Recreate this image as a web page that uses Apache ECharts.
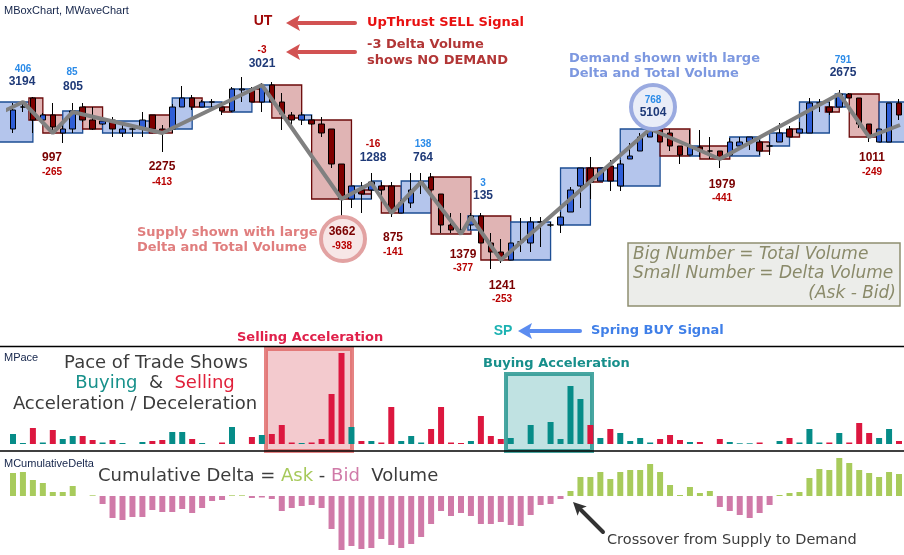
<!DOCTYPE html>
<html>
<head>
<meta charset="utf-8">
<title>MBoxChart, MWaveChart, MPace, MCumulativeDelta</title>
<script src="https://cdn.jsdelivr.net/npm/echarts@6/dist/echarts.min.js"></script>
<style>
  html, body { margin: 0; padding: 0; background: #ffffff; }
  #chart { width: 904px; height: 555px; }
</style>
</head>
<body>
<div id="chart"></div>
<script>
// bar numbers (90 bars)
var bars = []
for (var n = 1; n <= 90; n++) bars.push(String(n))

// candles: [open, close, low, high]
var candles = [
  [171, 190, 167, 197], [193, 193, 188, 196], [202, 180, 167, 203], [180, 185, 179, 187], [185, 173, 170, 197],
  [167, 171, 157, 180], [171, 189, 167, 197], [193, 180, 178, 197], [180, 171, 170, 193], [176, 179, 175, 182],
  [180, 171, 163, 183], [167, 171, 163, 177], [171, 171, 163, 175], [171, 180, 163, 188], [185, 171, 171, 185],
  [171, 167, 148, 175], [171, 193, 167, 196], [193, 202, 193, 214], [202, 193, 190, 205], [193, 198, 193, 200],
  [198, 198, 193, 201], [193, 189, 185, 198], [189, 211, 188, 213], [210, 211, 198, 223], [211, 198, 198, 213],
  [198, 214, 188, 217], [215, 198, 198, 218], [198, 186, 170, 207], [185, 180, 175, 188], [180, 185, 175, 188],
  [180, 176, 175, 185], [176, 167, 163, 183], [171, 136, 132, 171], [136, 101, 84, 136], [101, 114, 92, 114],
  [110, 106, 87, 118], [110, 118, 101, 127], [114, 110, 103, 118], [114, 88, 83, 118], [87, 97, 87, 100],
  [97, 110, 92, 127], [118, 118, 106, 127], [123, 110, 110, 127], [106, 75, 67, 106], [75, 70, 67, 87],
  [70, 70, 67, 87], [75, 84, 70, 87], [84, 57, 57, 87], [57, 48, 31, 67], [48, 40, 37, 61],
  [40, 57, 40, 57], [58, 58, 48, 82], [57, 78, 48, 83], [78, 78, 53, 83], [75, 75, 73, 78],
  [75, 83, 67, 88], [88, 110, 88, 113], [114, 132, 92, 132], [132, 118, 101, 143], [119, 132, 119, 132],
  [134, 119, 109, 140], [114, 136, 109, 140], [141, 144, 141, 157], [149, 163, 149, 167], [163, 171, 163, 171],
  [171, 158, 158, 171], [167, 154, 149, 171], [154, 145, 136, 154], [145, 154, 145, 170], [153, 149, 143, 170],
  [149, 149, 141, 163], [149, 141, 132, 149], [145, 158, 145, 162], [154, 158, 153, 163], [158, 163, 150, 163],
  [158, 149, 145, 160], [154, 154, 145, 158], [158, 167, 158, 177], [171, 163, 163, 174], [167, 171, 167, 178],
  [167, 197, 167, 202], [197, 197, 188, 201], [193, 188, 185, 198], [193, 206, 193, 210], [206, 202, 202, 207],
  [202, 176, 172, 202], [176, 163, 158, 176], [158, 171, 158, 171], [158, 197, 158, 197], [197, 185, 180, 201]
]

// boxes: [first bar, last bar, low, high, 1 = up / -1 = down]
var boxes = [
  [-2, 2, 158, 198, 1], [1.6, 3, 180, 202, -1], [3, 5, 167, 185, -1], [5, 7, 167, 189, 1], [7, 9, 171, 193, -1],
  [9, 14, 167, 179, 1], [13.7, 16, 167, 185, -1], [16, 18, 171, 202, 1], [18, 19, 193, 202, -1], [19, 21, 193, 198, 1],
  [21, 22, 188, 193, -1], [22, 24, 188, 211, 1], [24, 25, 198, 211, -1], [25, 26, 198, 215, 1], [26, 29, 182, 215, -1],
  [29, 30, 180, 185, 1], [30, 34, 101, 180, -1], [34, 36, 101, 114, 1], [35, 36, 106, 110, -1], [36, 37, 110, 119, 1],
  [37, 39, 87, 114, -1], [39, 42, 87, 119, 1], [42, 46, 66, 123, -1], [45.7, 47, 70, 84, 1], [47, 50, 40, 84, -1],
  [50, 54, 40, 78, 1], [55, 58, 75, 132, 1], [57.6, 59.2, 118, 132, -1], [59, 61, 119, 132, 1], [61, 65, 114, 171, 1],
  [65, 68, 144, 171, -1], [68, 69, 144, 154, 1], [69, 72, 141, 154, -1], [72, 75, 144, 163, 1], [75, 76, 149, 158, -1],
  [76, 78, 154, 167, 1], [78, 79, 163, 171, -1], [79, 82, 167, 198, 1], [81.6, 83, 188, 193, -1], [82.6, 83.6, 193, 206, 1],
  [84, 87, 163, 206, -1], [87, 91, 158, 198, 1]
]

// wave turning points: [bar, price]
var wave = [
  [-1.3, 187], [1, 198], [4, 167], [6, 188], [15, 167], [25, 215], [33, 101], [36, 117], [38, 87],
  [41, 118], [45, 66], [46, 83], [49, 40], [64, 171], [71, 141], [83, 206], [86, 163], [89.1, 175]
]

// pace of trade
var pace = [
  10, 1, 16, 1.5, 14, 5, 8, 8, 4, 1.5, 4, 1, 0, 2, 3, 4, 12, 12, 5, 1,
  0, 1.5, 17, 0, 7, 9, 10, 19, 1.5, 1, 1.5, 5, 50, 91, 17, 3, 3, 1.5, 37, 3,
  8, 1.5, 15, 37, 1.5, 1, 3, 28, 8, 5, 6, 0, 19, 0, 22, 5, 58, 45, 19, 6,
  15, 11, 3, 6, 1.5, 5, 9, 4, 2, 2, 0, 5, 2, 0.7, 0.7, 1.5, 0, 3, 6, 1.5,
  15, 1.5, 1.5, 11, 1.5, 21, 11, 6, 15, 3
]
// B = buying, S = selling
var paceSide = [
  'BBSBSBBSSB', 'SBBBSSBBSB', 'BSBBSBSSSB', 'SSSSBSBSSB', 'BBSSSSBSSS',
  'BBBBBBBBSB', 'SBBBBSSSBS', 'SSBBBSBBSB', 'BBSBSSSBBS'
].join('')

// cumulative delta (ask - bid)
var cumDelta = [
  23, 24, 16, 13, 4, 4, 10, 0, 0.7, -8, -22, -24, -21, -21, -14, -16, -16, -13, -17, -12,
  -5, -4, 0.7, 0.7, -2, -1.5, -3, -15, -12, -10, -9, -12, -33, -54, -50, -53, -52, -43, -49, -52,
  -48, -41, -28, -15, -20, -17, -20, -28, -28, -26, -29, -30, -19, -9, -8, -3, 5, 19, 19, 24,
  17, 24, 26, 26, 32, 24, 11, 1, 9, 3, 5, -11, -15, -19, -22, -17, -9, 1, 3, 4,
  18, 27, 26, 38, 33, 26, 23, 19, 24, 22
]

// volume labels: [x, y, text, kind]
var volLabels = [
  [23, 69, '406', 'db'], [22, 82, '3194', 'vb'], [72, 72, '85', 'db'], [73, 87, '805', 'vb'],
  [52, 158, '997', 'vr'], [52, 172, '-265', 'dr'], [162, 167, '2275', 'vr'], [162, 182, '-413', 'dr'],
  [262, 50, '-3', 'dr'], [262, 64, '3021', 'vb'], [373, 144, '-16', 'dr'], [373, 158, '1288', 'vb'],
  [423, 144, '138', 'db'], [423, 158, '764', 'vb'], [483, 183, '3', 'db'], [483, 196, '135', 'vb'],
  [342, 232, '3662', 'vr'], [342, 246, '-938', 'dr'], [393, 238, '875', 'vr'], [393, 252, '-141', 'dr'],
  [463, 255, '1379', 'vr'], [463, 268, '-377', 'dr'], [502, 286, '1241', 'vr'], [502, 299, '-253', 'dr'],
  [653, 100, '768', 'db'], [653, 113, '5104', 'vb'], [722, 185, '1979', 'vr'], [722, 198, '-441', 'dr'],
  [843, 60, '791', 'db'], [843, 73, '2675', 'vb'], [872, 158, '1011', 'vr'], [872, 172, '-249', 'dr']
]

var labelStyle = {
  vb: { fill: '#1f3a78', font: 'bold 12px "Liberation Sans", Arial, sans-serif' },
  db: { fill: '#2b8be8', font: 'bold 10px "Liberation Sans", Arial, sans-serif' },
  vr: { fill: '#7a0000', font: 'bold 12px "Liberation Sans", Arial, sans-serif' },
  dr: { fill: '#b80000', font: 'bold 10px "Liberation Sans", Arial, sans-serif' }
}

function txt(x, y, text, fill, font, align) {
  return {
    type: 'text', z: 50,
    style: { x: x, y: y, text: text, fill: fill, font: font, textAlign: align || 'left', textVerticalAlign: 'middle' }
  }
}

// arrow from tail (x1, y1) to tip (x2, y2)
function arrow(x1, y1, x2, y2, color, w, headLen, headW) {
  var dx = x2 - x1, dy = y2 - y1
  var len = Math.sqrt(dx * dx + dy * dy)
  var ux = dx / len, uy = dy / len
  var bx = x2 - ux * headLen, by = y2 - uy * headLen
  return {
    type: 'group', z: 50,
    children: [
      { type: 'line', shape: { x1: x1, y1: y1, x2: bx + ux * 2, y2: by + uy * 2 }, style: { stroke: color, lineWidth: w, lineCap: 'round' } },
      { type: 'polygon', shape: { points: [[x2, y2], [bx - uy * headW / 2, by + ux * headW / 2], [bx + ux * 3, by + uy * 3], [bx + uy * headW / 2, by - ux * headW / 2]] }, style: { fill: color } }
    ]
  }
}

var chart = echarts.init(document.getElementById('chart'))

var fontV = '"DejaVu Sans", Verdana, sans-serif'
var graphics = [
  { type: 'line', z: 40, shape: { x1: 0, y1: 346.5, x2: 904, y2: 346.5 }, style: { stroke: '#000', lineWidth: 1.5 } },
  { type: 'line', z: 40, shape: { x1: 0, y1: 451, x2: 904, y2: 451 }, style: { stroke: '#000', lineWidth: 1.5 } },
  txt(4, 11, 'MBoxChart, MWaveChart', '#14244a', '11px "Liberation Sans", Arial, sans-serif'),
  txt(4, 358, 'MPace', '#14244a', '11px "Liberation Sans", Arial, sans-serif'),
  txt(4, 464, 'MCumulativeDelta', '#14244a', '11px "Liberation Sans", Arial, sans-serif'),

  // signal circles
  { type: 'circle', z: 45, shape: { cx: 343, cy: 239, r: 22 }, style: { fill: '#f7e6e6', stroke: '#e2a2a2', lineWidth: 4 } },
  { type: 'circle', z: 45, shape: { cx: 653, cy: 107, r: 22 }, style: { fill: '#e9edf8', stroke: '#9aaae0', lineWidth: 4 } },

  // upthrust / spring notes
  txt(263, 21, 'UT', '#a00808', 'bold 14px "Liberation Sans", Arial, sans-serif', 'center'),
  arrow(355, 23, 286, 23, '#d25252', 4, 14, 16),
  txt(367, 23, 'UpThrust SELL Signal', '#e81010', 'bold 13px ' + fontV),
  arrow(355, 52, 286, 52, '#d25252', 4, 14, 16),
  txt(367, 45, '-3 Delta Volume', '#b23636', 'bold 13px ' + fontV),
  txt(367, 61, 'shows NO DEMAND', '#b23636', 'bold 13px ' + fontV),
  txt(569, 59, 'Demand shown with large', '#7d98e0', 'bold 13px ' + fontV),
  txt(569, 74, 'Delta and Total Volume', '#7d98e0', 'bold 13px ' + fontV),
  txt(137, 233, 'Supply shown with large', '#e07e7e', 'bold 13px ' + fontV),
  txt(137, 248, 'Delta and Total Volume', '#e07e7e', 'bold 13px ' + fontV),
  txt(503, 331, 'SP', '#1cb2b2', 'bold 14px "Liberation Sans", Arial, sans-serif', 'center'),
  arrow(580, 331, 518, 331, '#5b8cf0', 4, 14, 16),
  txt(591, 331, 'Spring BUY Signal', '#3f7fe8', 'bold 13px ' + fontV),

  // legend box
  { type: 'rect', z: 45, shape: { x: 628, y: 243, width: 272, height: 63 }, style: { fill: '#ecedea', stroke: '#8e8e70', lineWidth: 1.5 } },
  txt(633, 255, 'Big Number = Total Volume', '#8a8a6a', 'italic 17px ' + fontV),
  txt(633, 274, 'Small Number = Delta Volume', '#8a8a6a', 'italic 17px ' + fontV),
  txt(896, 294, '(Ask - Bid)', '#8a8a6a', 'italic 17px ' + fontV, 'right'),

  // pace panel notes
  txt(237, 338, 'Selling Acceleration', '#e0204a', 'bold 13px ' + fontV),
  { type: 'rect', z: 1, shape: { x: 266, y: 349, width: 86, height: 102 }, style: { fill: 'rgba(232,150,158,0.5)', stroke: 'rgba(222,100,100,0.8)', lineWidth: 4 } },
  txt(483, 364, 'Buying Acceleration', '#178f8b', 'bold 13px ' + fontV),
  { type: 'rect', z: 1, shape: { x: 506, y: 374, width: 86, height: 77 }, style: { fill: 'rgba(150,206,206,0.6)', stroke: 'rgba(40,150,145,0.85)', lineWidth: 4 } },
  txt(156, 363, 'Pace of Trade Shows', '#3c3c3c', '18px ' + fontV, 'center'),
  {
    type: 'text', z: 50,
    style: {
      x: 155, y: 383, textAlign: 'center', textVerticalAlign: 'middle',
      text: '{b|Buying}{d|  &  }{s|Selling}',
      rich: {
        b: { fill: '#18918b', font: '18px ' + fontV },
        d: { fill: '#3c3c3c', font: '18px ' + fontV },
        s: { fill: '#e0203a', font: '18px ' + fontV }
      }
    }
  },
  txt(135, 404, 'Acceleration / Deceleration', '#3c3c3c', '18px ' + fontV, 'center'),

  // cumulative delta notes
  {
    type: 'text', z: 50,
    style: {
      x: 98, y: 476, textAlign: 'left', textVerticalAlign: 'middle',
      text: '{d|Cumulative Delta = }{a|Ask}{d| - }{b|Bid}{d|  Volume}',
      rich: {
        d: { fill: '#3c3c3c', font: '18px ' + fontV },
        a: { fill: '#a6c95a', font: '18px ' + fontV },
        b: { fill: '#d07aa8', font: '18px ' + fontV }
      }
    }
  },
  arrow(603, 532, 573, 502, '#333333', 4, 13, 13),
  txt(607, 540, 'Crossover from Supply to Demand', '#3c3c3c', '14.5px ' + fontV)
]

volLabels.forEach(function (l) {
  var s = labelStyle[l[3]]
  graphics.push(txt(l[0], l[1], l[2], s.fill, s.font, 'center'))
})

var option = {
  animation: false,
  backgroundColor: '#ffffff',
  grid: [
    { left: 8, width: 900, top: 40, height: 260 },
    { left: 8, width: 900, top: 350, height: 94 },
    { left: 8, width: 900, top: 452, height: 100 }
  ],
  xAxis: [
    { type: 'category', gridIndex: 0, data: bars, show: false },
    { type: 'value', gridIndex: 0, min: -0.5, max: 89.5, show: false },
    { type: 'category', gridIndex: 1, data: bars, show: false },
    { type: 'category', gridIndex: 2, data: bars, show: false }
  ],
  yAxis: [
    { type: 'value', gridIndex: 0, min: 0, max: 260, show: false },
    { type: 'value', gridIndex: 1, min: 0, max: 94, show: false },
    { type: 'value', gridIndex: 2, min: -56, max: 44, show: false }
  ],
  series: [
    {
      name: 'boxes',
      type: 'custom',
      xAxisIndex: 1,
      yAxisIndex: 0,
      z: 1,
      encode: { x: [0, 1], y: [2, 3] },
      data: boxes,
      renderItem: function (params, api) {
        var p1 = api.coord([api.value(0), api.value(3)])
        var p2 = api.coord([api.value(1), api.value(2)])
        var up = api.value(4) > 0
        return {
          type: 'rect',
          shape: { x: p1[0], y: p1[1], width: p2[0] - p1[0], height: p2[1] - p1[1] },
          style: {
            fill: up ? '#b4c5ec' : '#e0b4b4',
            stroke: up ? '#1d4e94' : '#6b0a0a',
            lineWidth: 1.3
          }
        }
      }
    },
    {
      name: 'candles',
      type: 'candlestick',
      xAxisIndex: 0,
      yAxisIndex: 0,
      z: 2,
      barWidth: 6,
      data: candles,
      itemStyle: {
        color: '#2f5ed6',
        color0: '#7e0000',
        borderColor: '#000000',
        borderColor0: '#000000',
        borderWidth: 1
      }
    },
    {
      name: 'wave',
      type: 'line',
      xAxisIndex: 1,
      yAxisIndex: 0,
      z: 3,
      showSymbol: false,
      data: wave,
      lineStyle: { color: '#808080', width: 4 }
    },
    {
      name: 'pace',
      type: 'bar',
      xAxisIndex: 2,
      yAxisIndex: 1,
      z: 2,
      barWidth: 6,
      data: pace.map(function (v, i) {
        return { value: v, itemStyle: { color: paceSide.charAt(i) === 'B' ? '#068c88' : '#dc173f' } }
      })
    },
    {
      name: 'cumulative delta',
      type: 'bar',
      xAxisIndex: 3,
      yAxisIndex: 2,
      barWidth: 6,
      data: cumDelta.map(function (v) {
        return { value: v, itemStyle: { color: v >= 0 ? '#a8cb5c' : '#d07aa8' } }
      })
    }
  ],
  graphic: { elements: graphics }
}

chart.setOption(option)
window.addEventListener('resize', function () {
  chart.resize()
})
</script>
</body>
</html>
